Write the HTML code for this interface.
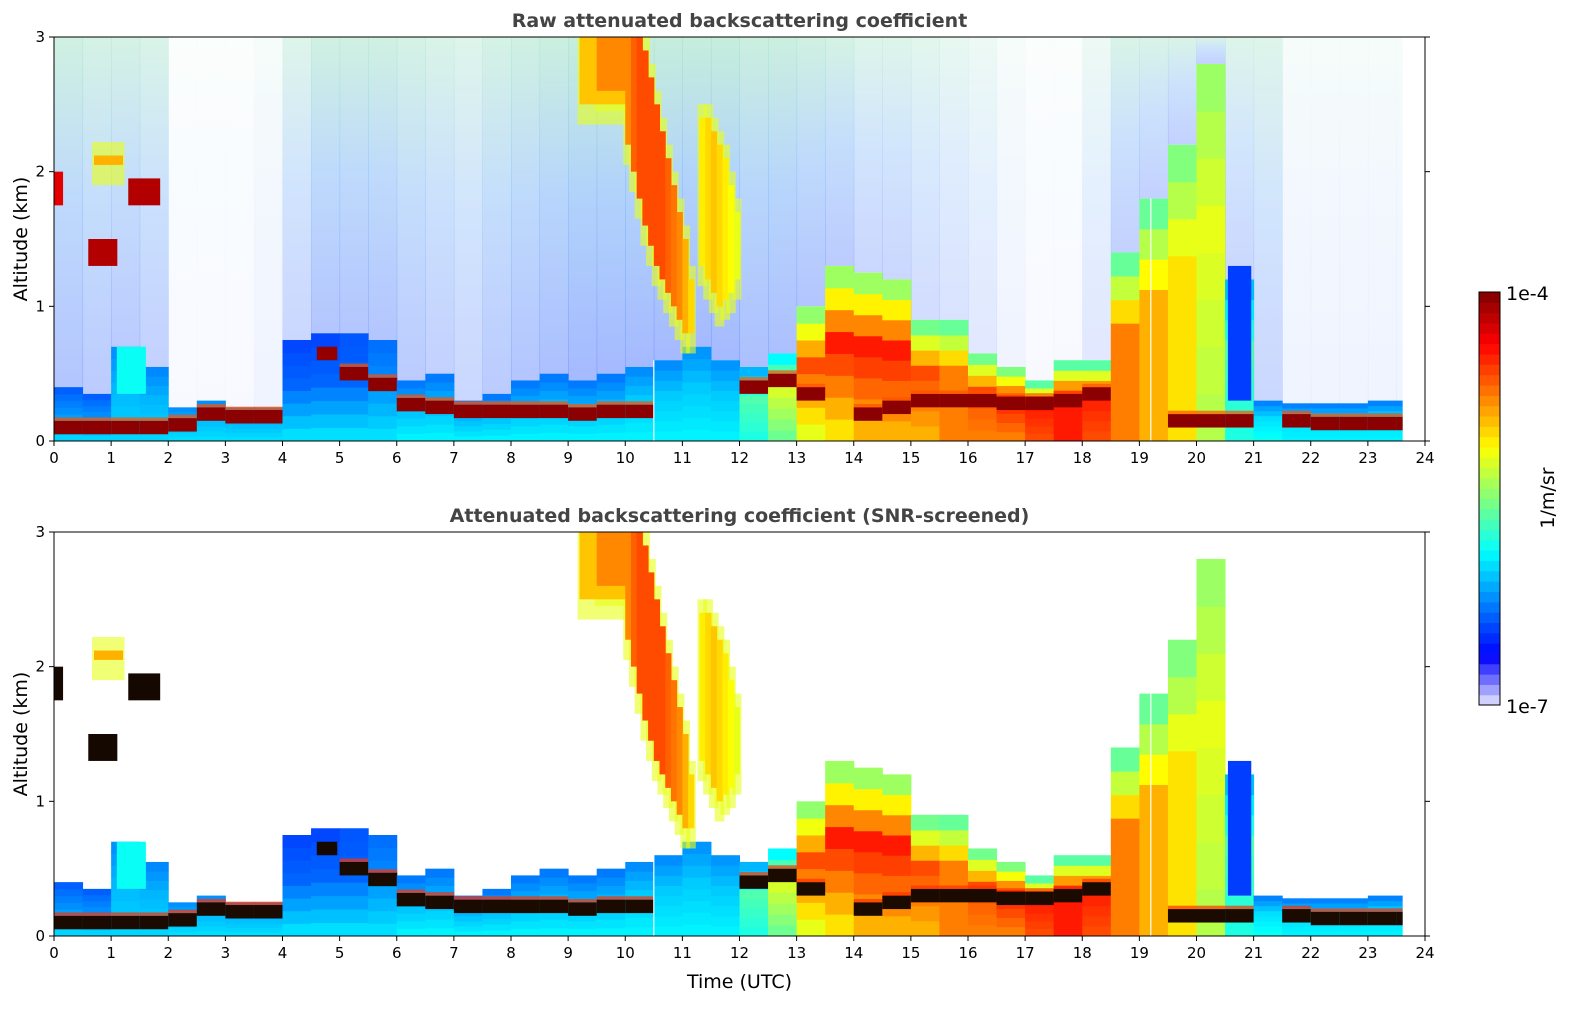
<!DOCTYPE html>
<html><head><meta charset="utf-8">
<style>
html,body{margin:0;padding:0;background:#fff;}
svg{display:block;font-family:"DejaVu Sans","Liberation Sans",sans-serif;}
</style></head>
<body>
<svg id="fig" width="1595" height="1020" viewBox="0 0 1595 1020" xmlns="http://www.w3.org/2000/svg">
<defs>
<linearGradient id="noiseGrad" x1="0" y1="1" x2="0" y2="0">
<stop offset="0" stop-color="rgb(40,90,255)"/>
<stop offset="0.55" stop-color="rgb(70,150,245)"/>
<stop offset="1" stop-color="rgb(120,215,170)"/>
</linearGradient>
</defs>
<g id="layer"></g>
</svg>
<script>
// ---- data (half-hour columns) ----
const times = [0,0.5,1,1.5,2,2.5,3,3.5,4,4.5,5,5.5,6,6.5,7,7.5,8,8.5,9,9.5,10,10.5,11,11.5,12,12.5,13,13.5,14,14.5,15,15.5,16,16.5,17,17.5,18,18.5,19,19.5,20,20.5,21,21.5,22,22.5,23,23.5];
const blTop = [0.4,0.35,0.7,0.55,0.25,0.3,0.25,0.25,0.75,0.8,0.8,0.75,0.45,0.5,0.3,0.35,0.45,0.5,0.45,0.5,0.55,0.6,0.7,0.6,0.55,0.65,1.0,1.3,1.25,1.2,0.9,0.9,0.65,0.55,0.45,0.6,0.6,1.4,1.8,2.2,2.8,1.2,0.3,0.28,0.28,0.28,0.3,0.3];
const levBase = [0.33,0.33,0.33,0.33,0.34,0.34,0.34,0.34,0.34,0.34,0.34,0.34,0.36,0.36,0.36,0.36,0.36,0.36,0.36,0.36,0.36,0.36,0.36,0.36,0.4,0.48,0.6,0.65,0.7,0.7,0.7,0.75,0.75,0.75,0.8,0.85,0.8,0.75,0.7,0.65,0.55,0.4,0.38,0.36,0.36,0.36,0.36,0.36];
const levMid = [0.26,0.26,0.3,0.3,0.3,0.3,0.3,0.3,0.22,0.22,0.22,0.26,0.3,0.3,0.3,0.3,0.3,0.3,0.3,0.3,0.32,0.32,0.32,0.32,0.45,0.58,0.8,0.85,0.85,0.85,0.8,0.75,0.8,0.85,0.85,0.85,0.85,0.75,0.7,0.65,0.6,0.45,0.34,0.34,0.34,0.34,0.34,0.34];
const levTop = [0.2,0.2,0.25,0.24,0.25,0.25,0.25,0.25,0.18,0.18,0.2,0.22,0.22,0.22,0.22,0.22,0.22,0.22,0.22,0.22,0.24,0.24,0.25,0.25,0.25,0.3,0.42,0.42,0.42,0.42,0.38,0.38,0.38,0.38,0.33,0.33,0.33,0.38,0.4,0.45,0.5,0.26,0.22,0.22,0.22,0.22,0.22,0.22];
const darkZ = [0.1,0.1,0.1,0.1,0.12,0.2,0.18,0.18,0,0,0.5,0.42,0.27,0.25,0.22,0.22,0.22,0.22,0.2,0.22,0.22,0,0,0,0.4,0.45,0.35,0,0.2,0.25,0.3,0.3,0.3,0.28,0.28,0.3,0.35,0,0,0.15,0.15,0.15,0,0.15,0.13,0.13,0.13,0.13];
const noise = [0.5,0.45,0.45,0.4,0.05,0.05,0.05,0.1,0.35,0.5,0.5,0.5,0.45,0.4,0.35,0.45,0.5,0.55,0.6,0.6,0.6,0.6,0.6,0.6,0.55,0.55,0.5,0.45,0.35,0.35,0.3,0.25,0.2,0.1,0.05,0.05,0.2,0.4,0.4,0.4,0.4,0.35,0.35,0.1,0.1,0.1,0.1,0.1];
// clouds: start time, end time, base km, top km, level
const cloudT0 = [0.0,0.6,1.3,0.7,4.6,1.1,20.55,9.2,9.5, 10.0,10.1,10.2,10.3,10.4,10.5,10.6,10.7,10.8,10.9,11.0,11.1, 11.3,11.4,11.5,11.6,11.7,11.8,11.9];
const cloudT1 = [0.15,1.1,1.85,1.2,4.95,1.6,20.95,10.0,10.0, 10.1,10.2,10.3,10.4,10.5,10.6,10.7,10.8,10.9,11.0,11.1,11.2, 11.4,11.5,11.6,11.7,11.8,11.9,12.0];
const cloudZ0 = [1.75,1.3,1.75,2.05,0.6,0.35,0.3,2.5,2.6, 2.2,2.0,1.8,1.6,1.45,1.3,1.2,1.1,1.0,0.9,0.8,0.8, 1.3,1.2,1.1,1.0,1.05,1.1,1.2];
const cloudZ1 = [2.0,1.5,1.95,2.12,0.7,0.7,1.3,3.0,3.0, 3.0,3.0,3.0,2.9,2.7,2.5,2.3,2.1,1.9,1.7,1.5,1.2, 2.4,2.4,2.3,2.2,2.1,1.9,1.7];
const cloudLev = [0.9,0.95,0.95,0.7,0.98,0.38,0.18,0.68,0.74, 0.74,0.78,0.8,0.8,0.8,0.8,0.8,0.78,0.76,0.74,0.7,0.66, 0.64,0.66,0.68,0.66,0.64,0.62,0.6];
const whiteLines = [10.5,19.2];
const xTicks = [0,1,2,3,4,5,6,7,8,9,10,11,12,13,14,15,16,17,18,19,20,21,22,23,24];
const yTicks = [0,1,2,3];
const DATA_END = 23.6;

const NS = "http://www.w3.org/2000/svg";
const L = document.getElementById('layer');
const X0 = 54, X1 = 1425, PH = 404;
function xs(t){ return X0 + t*(X1-X0)/24; }
function mk(tag, attrs, parent){ const e=document.createElementNS(NS,tag); for(const k in attrs) e.setAttribute(k,attrs[k]); (parent||L).appendChild(e); return e; }

function jet(v){
  v=Math.max(0,Math.min(1,v));
  if(v<0.12){ const f=v/0.12; const c=Math.round(232-232*f); return `rgb(${c},${c},255)`; }
  const u=0.125+0.875*(v-0.12)/0.88;
  const r=Math.min(1,Math.max(0,Math.min(4*u-1.5,-4*u+4.5)));
  const g=Math.min(1,Math.max(0,Math.min(4*u-0.5,-4*u+3.5)));
  const b=Math.min(1,Math.max(0,Math.min(4*u+0.5,-4*u+2.5)));
  return `rgb(${Math.round(r*255)},${Math.round(g*255)},${Math.round(b*255)})`;
}

function panel(yBottom, raw, title, pname){
  const ys = z => yBottom - z*PH/3;
  const g = mk('g',{});
  
  
  for(let i=0;i<times.length;i++){
    const t0=times[i], t1=Math.min(times[i]+0.5, DATA_END);
    const xa=xs(t0), w=xs(t1)-xa+0.5;
    if(raw && noise[i]>0){
      const r=mk('rect',{x:xa,y:ys(3),width:w,height:ys(blTop[i])-ys(3),fill:'url(#noiseGrad)',opacity:noise[i]*0.7},g);
      
      
    }
    const n=8;
    for(let k=0;k<n;k++){
      const f=k/n, za=blTop[i]*f, zb=blTop[i]*(k+1)/n;
      const lv = f<0.5 ? levBase[i]+(levMid[i]-levBase[i])*(f/0.5) : levMid[i]+(levTop[i]-levMid[i])*((f-0.5)/0.5);
      const r=mk('rect',{x:xa,y:ys(zb),width:w,height:ys(za)-ys(zb)+0.5,fill:jet(lv)},g);
      
      
    }
    if(darkZ[i]>0){
      const r=mk('rect',{x:xa,y:ys(darkZ[i]+0.05),width:w,height:ys(darkZ[i]-0.05)-ys(darkZ[i]+0.05),fill:raw?'#8b0000':'#1a0a00'},g);
      
      
      mk('rect',{x:xa,y:ys(darkZ[i]+0.075),width:w,height:ys(darkZ[i]+0.05)-ys(darkZ[i]+0.075),fill:raw?'#ff5000':'#ff3000',opacity:0.7},g);
    }
  }
  for(let j=0;j<cloudT0.length;j++){
    if(cloudLev[j]>0.55 && cloudLev[j]<0.88){
      const h=mk('rect',{x:xs(cloudT0[j])-2,y:ys(Math.min(3,cloudZ1[j]+0.1)),width:xs(cloudT1[j])-xs(cloudT0[j])+4,height:ys(cloudZ0[j]-0.15)-ys(Math.min(3,cloudZ1[j]+0.1)),fill:jet(0.6),opacity:0.6},g);
      
      
    }
  }
  for(let j=0;j<cloudT0.length;j++){
    const dark = !raw && cloudLev[j]>0.88;
    const r=mk('rect',{x:xs(cloudT0[j]),y:ys(cloudZ1[j]),width:xs(cloudT1[j])-xs(cloudT0[j])+0.5,height:ys(cloudZ0[j])-ys(cloudZ1[j]),fill:dark?'#150800':jet(cloudLev[j])},g);
    
    
  }
  for(const t of whiteLines){
    const idx=Math.floor(t/0.5);
    const l=mk('line',{x1:xs(t),x2:xs(t),y1:yBottom,y2:ys(blTop[idx]),stroke:'#fff','stroke-width':1.2},g);
    
    
  }
  const fr=mk('rect',{x:X0,y:ys(3),width:X1-X0,height:PH,fill:'none',stroke:'#000','stroke-width':1},g);
  
  
  for(const t of xTicks){
    mk('line',{x1:xs(t),x2:xs(t),y1:yBottom,y2:yBottom+5,stroke:'#000'},g);
    const tx=mk('text',{x:xs(t),y:yBottom+22,'text-anchor':'middle','font-size':15},g);
    tx.textContent=t;
    
    
  }
  for(const z of yTicks){
    mk('line',{x1:X0-5,x2:X0,y1:ys(z),y2:ys(z),stroke:'#000'},g);
    mk('line',{x1:X1,x2:X1+5,y1:ys(z),y2:ys(z),stroke:'#000'},g);
    const tx=mk('text',{x:X0-9,y:ys(z)+5,'text-anchor':'end','font-size':15},g);
    tx.textContent=z;
    
    
  }
  const yt=mk('text',{x:27,y:yBottom-PH/2,'text-anchor':'middle','font-size':19,transform:`rotate(-90 27 ${yBottom-PH/2})`},g);
  yt.textContent='Altitude (km)';
  
  
  const tt=mk('text',{x:(X0+X1)/2,y:yBottom-PH-10,'text-anchor':'middle','font-size':19,'font-weight':'bold',fill:'#444'},g);
  tt.textContent=title;
  
  
}
panel(441,true,'Raw attenuated backscattering coefficient','raw-panel');
panel(936,false,'Attenuated backscattering coefficient (SNR-screened)','screened-panel');

const xt=mk('text',{x:(X0+X1)/2,y:988,'text-anchor':'middle','font-size':19});
xt.textContent='Time (UTC)';



const CB_LEVELS = 40, cbTop=292, cbBot=705, cbX=1479, cbW=21;
const cb=mk('g',{});


for(let k=0;k<CB_LEVELS;k++){
  const h=(cbBot-cbTop)/CB_LEVELS;
  mk('rect',{x:cbX,y:cbBot-(k+1)*h,width:cbW,height:h+0.6,fill:jet((k+0.5)/CB_LEVELS)},cb);
}
mk('rect',{x:cbX,y:cbTop,width:cbW,height:cbBot-cbTop,fill:'none',stroke:'#000'},cb);
const c1=mk('text',{x:1506,y:300,'font-size':19},cb); c1.textContent='1e-4';


const c2=mk('text',{x:1506,y:713,'font-size':19},cb); c2.textContent='1e-7';


const c3=mk('text',{x:1554,y:498,'font-size':19,'text-anchor':'middle',transform:'rotate(-90 1554 498)'},cb); c3.textContent='1/m/sr';


</script>
</body></html>
